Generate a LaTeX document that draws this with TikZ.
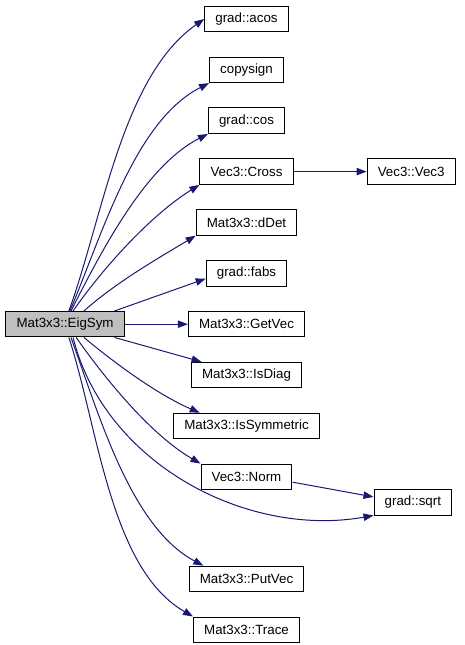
\documentclass[tikz,border=0pt]{standalone}
\usepackage{fontspec}
\setmainfont{Liberation Sans}
\usetikzlibrary{arrows.meta,positioning}
\definecolor{edgeblue}{HTML}{191970}
\definecolor{rootgrey}{HTML}{BFBFBF}

\begin{document}
\begin{tikzpicture}[
  x=0.75pt, y=-0.75pt,
  node distance=18.3pt,
  fn/.style={draw=black, fill=white, line width=0.75pt, minimum height=19.1pt, inner xsep=8pt, inner ysep=0pt, font=\fontsize{10pt}{12pt}\selectfont},
  root/.style={fn, fill=rootgrey, inner xsep=8.1pt},
  arrow/.style={-{Triangle[length=7.5pt, width=5.5pt]}, draw=edgeblue, line width=0.75pt}
]
\useasboundingbox (0,0) rectangle (464,645);
% callees, one column
\node[fn] (acos) at (246.5,19) {grad::acos};
\node[fn, below=of acos] (copysign) {copysign};
\node[fn, below=of copysign] (cos) {grad::cos};
\node[fn, below=of cos] (cross) {Vec3::Cross};
\node[fn, below=of cross] (ddet) {Mat3x3::dDet};
\node[fn, below=of ddet] (fabs) {grad::fabs};
\node[fn, below=of fabs] (getvec) {Mat3x3::GetVec};
\node[fn, below=of getvec] (isdiag) {Mat3x3::IsDiag};
\node[fn, below=of isdiag] (issym) {Mat3x3::IsSymmetric};
\node[fn, below=of issym] (norm) {Vec3::Norm};
\node[fn, below=56.7pt of norm] (putvec) {Mat3x3::PutVec};
\node[fn, below=of putvec] (trace) {Mat3x3::Trace};
% second level
\node[fn, right=54.75pt of cross] (vec3) {Vec3::Vec3};
\node[fn, right=60.75pt of norm, yshift=-19.1pt] (sqrt) {grad::sqrt};
% caller
\node[root, left=47.25pt of getvec] (eig) {Mat3x3::EigSym};

\foreach \s/\t/\o/\i in {74/acos.west/70/215, 70/copysign.south west/67/207,
    66/cos.south west/63/207, 59/cross.south west/55/212, 35/ddet.south west/42/211,
    -50/norm.north west/-55/150, -74/trace.north west/-72/150}
  \draw[arrow] (eig.\s) to[out=\o, in=\i, looseness=0.8] (\t);
\draw[arrow] (eig.-35) to[out=-40, in=157, looseness=0.8] ([xshift=20pt]issym.north west);
\draw[arrow] (eig.-59) to[out=-76, in=190, looseness=0.95] (sqrt.south west);
\draw[arrow] (eig.-66) to[out=-70, in=152, looseness=0.8] ([xshift=11pt]putvec.north west);
\draw[arrow] (eig.15) -- ([yshift=-4pt]fabs.west);
\draw[arrow] (eig) -- (getvec);
\draw[arrow] (eig.-15) -- ([xshift=8pt]isdiag.north west);
\draw[arrow] (cross) -- (vec3);
\draw[arrow] ([yshift=-4pt]norm.east) -- ([yshift=4pt]sqrt.west);
\end{tikzpicture}
\end{document}
